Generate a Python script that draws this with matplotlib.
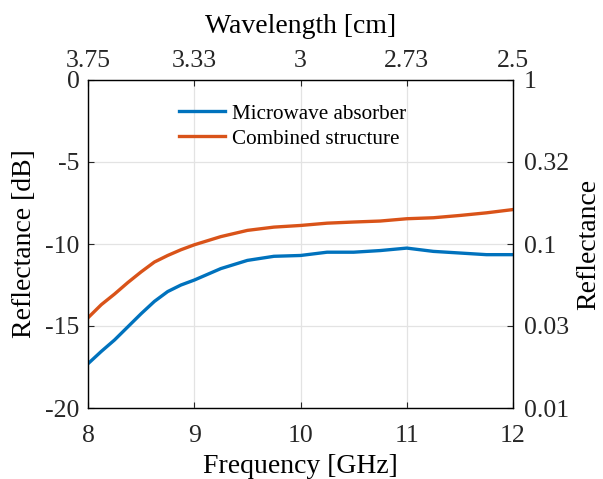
import matplotlib
matplotlib.use("Agg")
import matplotlib.pyplot as plt
import numpy as np

plt.rcParams['font.family'] = ['Liberation Serif', 'DejaVu Serif']
plt.rcParams['axes.unicode_minus'] = False

freq = [8.0, 8.125, 8.25, 8.375, 8.5, 8.625, 8.75, 8.875, 9.0, 9.25, 9.5, 9.75, 10.0, 10.25, 10.5, 10.75, 11.0, 11.25, 11.5, 11.75, 12.0]
absorber_db = [-17.3, -16.55, -15.85, -15.05, -14.25, -13.5, -12.9, -12.5, -12.2, -11.5, -11.0, -10.75, -10.7, -10.5, -10.5, -10.4, -10.25, -10.45, -10.55, -10.65, -10.65]
combined_db = [-14.5, -13.7, -13.05, -12.35, -11.7, -11.1, -10.7, -10.35, -10.05, -9.55, -9.17, -8.97, -8.87, -8.73, -8.66, -8.6, -8.46, -8.4, -8.26, -8.1, -7.9]

x_ticks = [8, 9, 10, 11, 12]
y_ticks = [-20, -15, -10, -5, 0]
wavelength_labels = ['3.75', '3.33', '3', '2.73', '2.5']
reflectance_labels = ['0.01', '0.03', '0.1', '0.32', '1']

blue = '#0072BD'
orange = '#D95319'
fs = 20
tfs = 18.5

fig = plt.figure(figsize=(6.03, 4.79), dpi=100)
ax = fig.add_axes([88/603, 1-408/479, (513-88)/603, (408-80)/479])

ax.plot(freq, absorber_db, color=blue, lw=2.4, label='Microwave absorber')
ax.plot(freq, combined_db, color=orange, lw=2.4, label='Combined structure')

ax.set_xlim(8, 12)
ax.set_ylim(-20, 0)
ax.set_xticks(x_ticks)
ax.set_yticks(y_ticks)
ax.grid(True, color='#e3e3e3', lw=0.9)
ax.set_axisbelow(True)
ax.tick_params(axis='x', direction='in', labelsize=tfs, colors='#262626', length=4, pad=12)
ax.tick_params(axis='y', direction='in', labelsize=tfs, colors='#262626', length=4, pad=6)
for s in ax.spines.values():
    s.set_color('#262626')
    s.set_linewidth(0.9)
ax.set_xlabel('Frequency [GHz]', fontsize=fs, labelpad=5)
ax.set_ylabel('Reflectance [dB]', fontsize=fs, labelpad=6)

axt = ax.twiny()
axt.set_xlim(ax.get_xlim())
axt.set_xticks(x_ticks)
axt.set_xticklabels(wavelength_labels)
axt.tick_params(direction='in', labelsize=tfs, colors='#262626', length=4, pad=6)
axt.set_xlabel('Wavelength [cm]', fontsize=fs, labelpad=12)

axr = ax.twinx()
axr.set_ylim(ax.get_ylim())
axr.set_yticks(y_ticks)
axr.set_yticklabels(reflectance_labels)
axr.tick_params(direction='in', labelsize=tfs, colors='#262626', length=4, pad=8)
axr.set_ylabel('Reflectance', fontsize=fs, labelpad=5)

ax.legend(loc='upper center', frameon=False, fontsize=15.2, handlelength=2.2,
          bbox_to_anchor=(0.5 - 8/425, 1.0 - 5/328), labelspacing=0.25, handletextpad=0.35)

fig.savefig('out.png', dpi=100)
